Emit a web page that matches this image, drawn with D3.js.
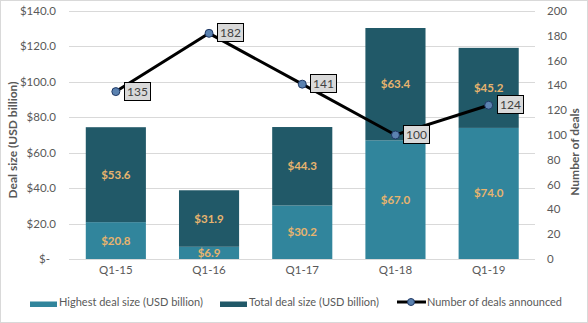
<!DOCTYPE html>
<html><head><meta charset="utf-8">
<script src="https://cdn.jsdelivr.net/npm/d3@7"></script>
<style>body{margin:0;background:#fff}svg{display:block;font-family:Lato,"Open Sans",sans-serif}</style>
</head><body><svg id="c" width="588" height="323"></svg>
<script>
const categories = ["Q1-15","Q1-16","Q1-17","Q1-18","Q1-19"];
const highestDeal = [20.8, 6.9, 30.2, 67.0, 74.0];
const totalDeal = [53.6, 31.9, 44.3, 63.4, 45.2];
const numDeals = [135, 182, 141, 100, 124];
const leftTicks = [0,20,40,60,80,100,120,140];
const rightTicks = [0,20,40,60,80,100,120,140,160,180,200];

const svg = d3.select("#c");
const C1 = "#31859c", C2 = "#215968", LBL = "#e8b46e", AX = "#595959";
svg.append("rect").attr("x",0.5).attr("y",0.5).attr("width",587).attr("height",322)
  .attr("fill","#fff").attr("stroke","#d9d9d9");

const x = d3.scaleBand().domain(categories).range([69,535.5]).paddingInner(0.355).paddingOuter(0.18);
const y = d3.scaleLinear().domain([0,140]).range([259,11]);
const y2 = d3.scaleLinear().domain([0,200]).range([259,11]);

// gridlines
svg.append("g").selectAll("line").data(leftTicks).join("line")
  .attr("x1",69).attr("x2",535).attr("y1",d=>Math.round(y(d))+0.5).attr("y2",d=>Math.round(y(d))+0.5)
  .attr("stroke","#d9d9d9").attr("stroke-width",1);

// left axis labels
const fmt = d => d===0 ? "$-" : "$" + d.toFixed(1);
svg.append("g").selectAll("text").data(leftTicks).join("text")
  .attr("x",d=>d===0?50:56).attr("y",d=>y(d)+4).attr("text-anchor","end")
  .attr("font-size",11.5).attr("fill",AX).text(fmt);
// right axis labels
svg.append("g").selectAll("text").data(rightTicks).join("text")
  .attr("x",547).attr("y",d=>y2(d)+4).attr("text-anchor","start")
  .attr("font-size",11.5).attr("fill",AX).text(d=>d);
// x labels
svg.append("g").selectAll("text").data(categories).join("text")
  .attr("x",d=>x(d)+x.bandwidth()/2).attr("y",274).attr("text-anchor","middle")
  .attr("font-size",11.5).attr("fill",AX).text(d=>d);

// axis titles
svg.append("text").attr("transform","translate(17,140) rotate(-90)").attr("text-anchor","middle")
  .attr("font-size",12).attr("font-weight","bold").attr("fill",AX).text("Deal size (USD billion)");
svg.append("text").attr("transform","translate(579,152) rotate(-90)").attr("text-anchor","middle")
  .attr("font-size",12).attr("font-weight","bold").attr("fill",AX).text("Number of deals");

// bars
const bars = svg.append("g");
categories.forEach((c,i)=>{
  const h = highestDeal[i], t = totalDeal[i];
  bars.append("rect").attr("x",x(c)).attr("width",x.bandwidth())
    .attr("y",y(h)).attr("height",y(0)-y(h)).attr("fill",C1);
  bars.append("rect").attr("x",x(c)).attr("width",x.bandwidth())
    .attr("y",y(h+t)).attr("height",y(h)-y(h+t)).attr("fill",C2);
  const cx = x(c)+x.bandwidth()/2;
  bars.append("text").attr("x",cx).attr("y",(y(0)+y(h))/2+4).attr("text-anchor","middle")
    .attr("font-size",11.5).attr("font-weight","bold").attr("fill",LBL).text("$"+h.toFixed(1));
  bars.append("text").attr("x",cx).attr("y",(y(h)+y(h+t))/2+4).attr("text-anchor","middle")
    .attr("font-size",11.5).attr("font-weight","bold").attr("fill",LBL).text("$"+t.toFixed(1));
});

// line
const pts = categories.map((c,i)=>[x(c)+x.bandwidth()/2, y2(numDeals[i])]);
svg.append("path").attr("d",d3.line()(pts)).attr("fill","none").attr("stroke","#000").attr("stroke-width",3);
svg.append("g").selectAll("circle").data(pts).join("circle")
  .attr("cx",d=>d[0]).attr("cy",d=>d[1]).attr("r",4)
  .attr("fill","#5b82b0").attr("stroke","#1f3864").attr("stroke-width",1);
// data labels
const lab = svg.append("g");
pts.forEach((p,i)=>{
  lab.append("rect").attr("x",Math.round(p[0])+8.5).attr("y",Math.round(p[1])-9.5).attr("width",26).attr("height",18)
    .attr("fill","#d9d9d9").attr("stroke","#000").attr("stroke-width",1);
  lab.append("text").attr("x",Math.round(p[0])+21.5).attr("y",Math.round(p[1])+4).attr("text-anchor","middle")
    .attr("font-size",12).attr("fill","#404040").text(numDeals[i]);
});

// legend
const lg = svg.append("g");
const lt = (xx, w, s) => lg.append("text").attr("x",xx).attr("y",305.5).attr("font-size",11.5).attr("fill",AX)
  .attr("textLength",w).attr("lengthAdjust","spacingAndGlyphs").text(s);
lg.append("rect").attr("x",30).attr("y",301.5).attr("width",27).attr("height",5.5).attr("fill",C1);
lt(59,144,"Highest deal size (USD billion)");
lg.append("rect").attr("x",220).attr("y",301.5).attr("width",27).attr("height",5.5).attr("fill",C2);
lt(249,130,"Total deal size (USD billion)");
lg.append("line").attr("x1",397).attr("x2",426).attr("y1",302).attr("y2",302).attr("stroke","#000").attr("stroke-width",3);
lg.append("circle").attr("cx",411).attr("cy",302).attr("r",3.5).attr("fill","#5b82b0").attr("stroke","#1f3864");
lt(427,135,"Number of deals announced");
</script></body></html>
